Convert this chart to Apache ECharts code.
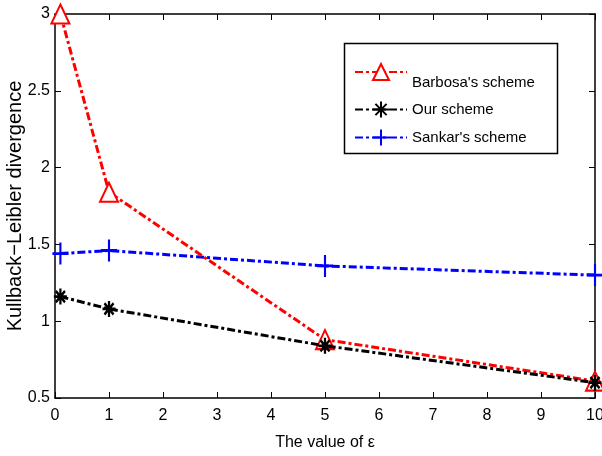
<!DOCTYPE html>
<html><head><meta charset="utf-8">
<script src="https://cdn.jsdelivr.net/npm/echarts@6/dist/echarts.min.js"></script>
<style>html,body{margin:0;padding:0;background:#fff}#c{width:602px;height:456px}</style>
</head><body><div id="c"></div>
<script>
const epsilon = [0.1, 1, 5, 10];
const barbosa = [3.0, 1.84, 0.88, 0.61];
const ours = [1.16, 1.08, 0.84, 0.60];
const sankar = [1.44, 1.46, 1.36, 1.30];
const seriesNames = ["Barbosa's scheme", "Our scheme", "Sankar's scheme"];

const FONT = '"Liberation Sans",Arial,sans-serif';
const dashDot = [8, 3, 3, 3];
const star = 'path://M0,-10L0,10M-10,0L10,0M-7,-7L7,7M-7,7L7,-7';
const plus = 'path://M0,-10L0,10M-10,0L10,0';
const pairs = a => epsilon.map((x, i) => [x, a[i]]);

const chart = echarts.init(document.getElementById('c'), null, {renderer: 'canvas'});
const axCommon = {
  axisLine: {show: true, onZero: false, lineStyle: {color: '#000', width: 1.5}},
  axisTick: {show: true, inside: true, length: 6, lineStyle: {color: '#000', width: 1}},
  splitLine: {show: false}
};
const legendBase = {
  orient: 'horizontal', left: 354, itemWidth: 52, itemHeight: 20, itemGap: 4, padding: 0,
  textStyle: {fontFamily: FONT, fontSize: 15, color: '#000'}
};
chart.setOption({
  animation: false,
  backgroundColor: '#fff',
  grid: {left: 55, right: 7, top: 14, bottom: 58, show: false, outerBoundsMode: 'none', containLabel: false},
  xAxis: [
    Object.assign({type: 'value', min: 0, max: 10, interval: 1, position: 'bottom',
      name: 'The value of ε', nameLocation: 'middle', nameGap: 37, nameMoveOverlap: false,
      nameTextStyle: {fontFamily: FONT, fontSize: 16, color: '#000'},
      axisLabel: {fontFamily: FONT, fontSize: 16, color: '#000', margin: 10}}, axCommon),
    Object.assign({type: 'value', min: 0, max: 10, interval: 1, position: 'top',
      axisLabel: {show: false}}, axCommon)
  ],
  yAxis: [
    Object.assign({type: 'value', min: 0.5, max: 3, interval: 0.5, position: 'left',
      name: 'Kullback\u2212Leibler divergence', nameLocation: 'middle', nameGap: 30, nameMoveOverlap: false,
      nameTextStyle: {fontFamily: FONT, fontSize: 20, color: '#000'},
      axisLabel: {fontFamily: FONT, fontSize: 16, color: '#000', margin: 5}}, axCommon),
    Object.assign({type: 'value', min: 0.5, max: 3, interval: 0.5, position: 'right',
      axisLabel: {show: false}}, axCommon)
  ],
  legend: [
    Object.assign({}, legendBase, {top: 50, data: [seriesNames[0]],
      formatter: '\n{name}',
      textStyle: {fontFamily: FONT, fontSize: 15, color: '#000', lineHeight: 22}}),
    Object.assign({}, legendBase, {top: 99, data: [seriesNames[1]]}),
    Object.assign({}, legendBase, {top: 127, data: [seriesNames[2]]})
  ],
  graphic: [{type: 'rect', shape: {x: 344.5, y: 43.5, width: 213, height: 110},
    style: {fill: 'none', stroke: '#000', lineWidth: 1.5}, z: 1}],
  series: [
    {name: seriesNames[0], type: 'line', data: pairs(barbosa),
      symbol: 'emptyTriangle', symbolSize: [18, 19],
      lineStyle: {color: '#ff0000', width: 3, type: dashDot},
      itemStyle: {color: '#ff0000', borderColor: '#ff0000', borderWidth: 2.5}, z: 3},
    {name: seriesNames[1], type: 'line', data: pairs(ours),
      symbol: star, symbolSize: [13, 16],
      lineStyle: {color: '#000', width: 3, type: dashDot},
      itemStyle: {color: 'none', borderColor: '#000', borderWidth: 2.5}, z: 4},
    {name: seriesNames[2], type: 'line', data: pairs(sankar),
      symbol: plus, symbolSize: [16, 22],
      lineStyle: {color: '#0000ff', width: 3, type: dashDot},
      itemStyle: {color: 'none', borderColor: '#0000ff', borderWidth: 2.5}, z: 2}
  ]
});
</script></body></html>
